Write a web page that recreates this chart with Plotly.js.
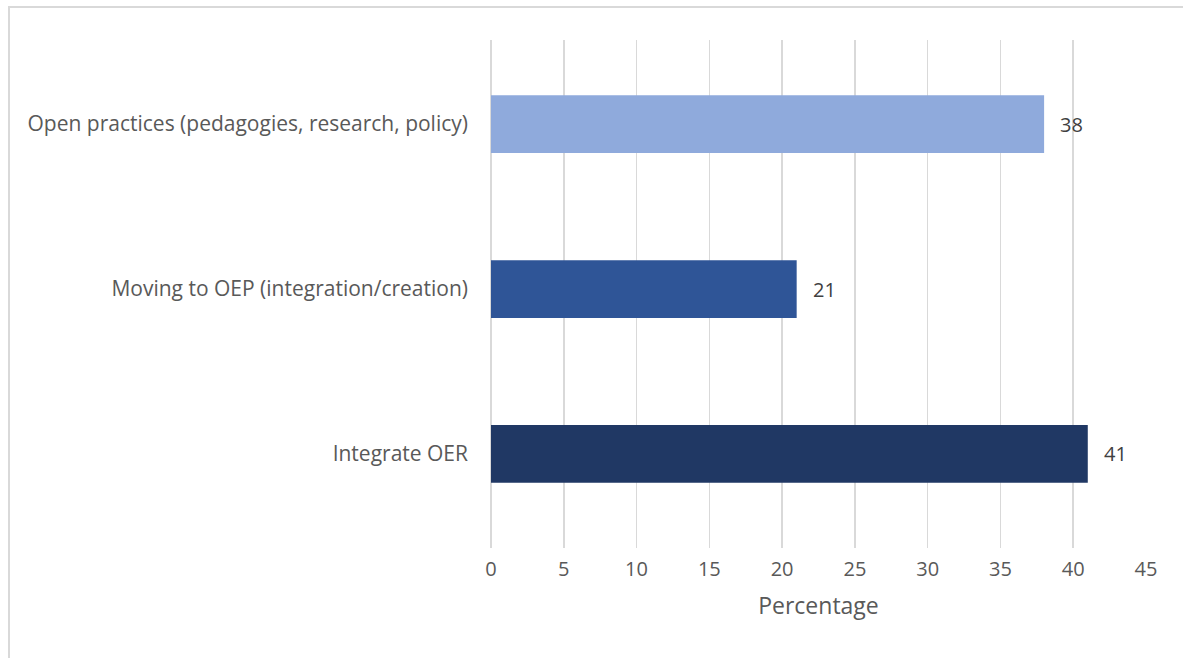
<!DOCTYPE html>
<html>
<head>
<meta charset="utf-8">
<script src="https://cdn.plot.ly/plotly-3.0.1.min.js"></script>
<style>
html,body{margin:0;padding:0;background:#fff;overflow:hidden;}
#frame{position:absolute;left:8px;top:6px;width:1200px;height:700px;border:2px solid #D9D9D9;box-sizing:border-box;}
#chart{position:absolute;left:0;top:0;width:1183px;height:658px;}
</style>
</head>
<body>
<div id="frame"></div>
<div id="chart"></div>
<script>
const categories = ["Integrate OER", "Moving to OEP (integration/creation)", "Open practices (pedagogies, research, policy)"];
const values = [41, 21, 38];
const barColors = ["#203864", "#2F5597", "#8FAADC"];
const xTicks = [0, 5, 10, 15, 20, 25, 30, 35, 40, 45];

const font = "'Open Sans', sans-serif";
const trace = {
  type: "bar",
  orientation: "h",
  x: values,
  y: categories,
  marker: {color: barColors},
  width: 0.35,
  hoverinfo: "none"
};
const annotations = values.map((v, i) => ({
  x: v, y: categories[i], xref: "x", yref: "y",
  text: String(v), showarrow: false, xanchor: "left", xshift: 14,
  font: {family: font, size: 20, color: "#404040"}
}));
const layout = {
  width: 1183, height: 658,
  margin: {l: 491, r: 37, t: 40, b: 110},
  paper_bgcolor: "rgba(0,0,0,0)",
  plot_bgcolor: "rgba(0,0,0,0)",
  showlegend: false,
  bargap: 0.65,
  xaxis: {
    range: [0, 45], tickvals: xTicks, ticktext: xTicks.map(String),
    showgrid: true, gridcolor: "#D9D9D9", gridwidth: 1.5,
    zeroline: true, zerolinecolor: "#D9D9D9", zerolinewidth: 1.5,
    showline: false, ticks: "",
    tickfont: {family: font, size: 20, color: "#595959"},
    ticklabelstandoff: 7,
    title: {text: "Percentage", font: {family: font, size: 23, color: "#595959"}, standoff: 16}
  },
  yaxis: {
    type: "category", categoryorder: "array", categoryarray: categories,
    range: [-0.57, 2.51],
    showgrid: false, zeroline: false, showline: false, ticks: "",
    tickfont: {family: font, size: 21, color: "#595959"},
    ticklabelstandoff: 22
  },
  annotations: annotations
};
Plotly.newPlot("chart", [trace], layout, {displayModeBar: false, staticPlot: true});
</script>
</body>
</html>
